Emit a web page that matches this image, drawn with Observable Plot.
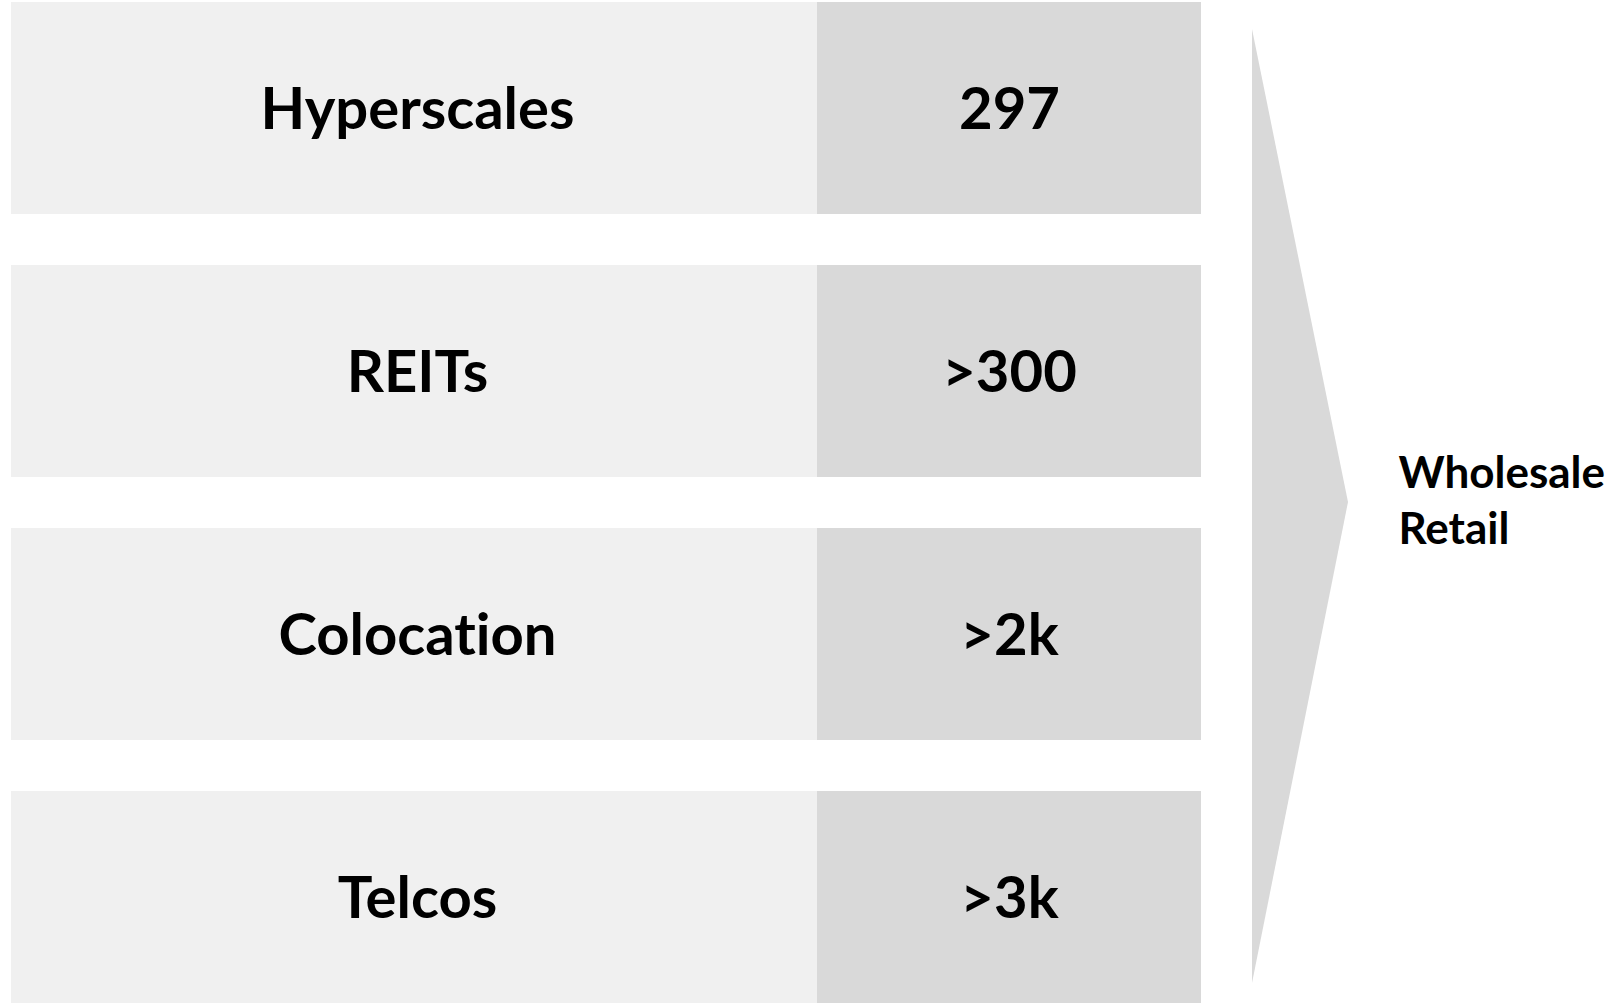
<!DOCTYPE html>
<html>
<head>
<meta charset="utf-8">
<script src="https://cdn.jsdelivr.net/npm/d3@7"></script>
<script src="https://cdn.jsdelivr.net/npm/@observablehq/plot@0.6"></script>
<style>
  html, body { margin: 0; padding: 0; background: #ffffff; }
  #wrap { position: relative; width: 1616px; height: 1004px; overflow: hidden; }
  #wrap svg { position: absolute; left: 0; top: 0; font-variant-ligatures: none; font-feature-settings: "liga" 0; }
</style>
</head>
<body>
<div id="wrap"></div>
<script>
// ---- data ----
const categories = ["Hyperscales", "REITs", "Colocation", "Telcos"];
const counts = ["297", ">300", ">2k", ">3k"];
const sideLabels = ["Wholesale", "Retail"];

// ---- layout ----
const W = 1616, H = 1004;
const FONT = "Lato, 'Open Sans', sans-serif";
const labelX1 = 11, labelX2 = 817, valueX2 = 1201;

const rows = categories.map((c, i) => ({ cat: c, count: counts[i] }));

const main = Plot.plot({
  width: W, height: H,
  marginTop: 0, marginBottom: 0, marginLeft: 0, marginRight: 0,
  style: { background: "transparent", fontFamily: FONT },
  x: { type: "linear", domain: [0, W], range: [0, W], axis: null },
  y: { type: "band", domain: categories, range: [2, 1003], paddingInner: 51 / 263, paddingOuter: 0, axis: null },
  marks: [
    Plot.barX(rows, { y: "cat", x1: () => labelX1, x2: () => labelX2, fill: "#f0f0f0" }),
    Plot.barX(rows, { y: "cat", x1: () => labelX2, x2: () => valueX2, fill: "#d9d9d9" }),
    Plot.text(rows, { y: "cat", x: () => (labelX1 + labelX2) / 2, text: "cat",
      fontSize: 58, fontWeight: "bold", fill: "#000", textAnchor: "middle", dy: 2, dx: 3 }),
    Plot.text(rows, { y: "cat", x: () => (labelX2 + valueX2) / 2, text: "count",
      fontSize: 58, fontWeight: "bold", fill: "#000", textAnchor: "middle", dy: 2 })
  ]
});

const arrowPts = [
  { x: 1252, y1: 29, y2: 983 },
  { x: 1348, y1: 502, y2: 502 }
];
const side = sideLabels.map((t, i) => ({ t, y: 486 + i * 56 }));

const overlay = Plot.plot({
  width: W, height: H,
  marginTop: 0, marginBottom: 0, marginLeft: 0, marginRight: 0,
  style: { background: "transparent", fontFamily: FONT },
  x: { type: "linear", domain: [0, W], range: [0, W], axis: null },
  y: { type: "linear", domain: [0, H], range: [0, H], axis: null },
  marks: [
    Plot.areaY(arrowPts, { x: "x", y1: "y1", y2: "y2", fill: "#d9d9d9" }),
    Plot.text(side, { x: () => 1398, y: "y", text: "t", textAnchor: "start", lineAnchor: "bottom",
      fontSize: 44, fontWeight: "bold", fill: "#000", dy: 1 })
  ]
});

const wrap = document.getElementById("wrap");
wrap.appendChild(main);
wrap.appendChild(overlay);
</script>
</body>
</html>
